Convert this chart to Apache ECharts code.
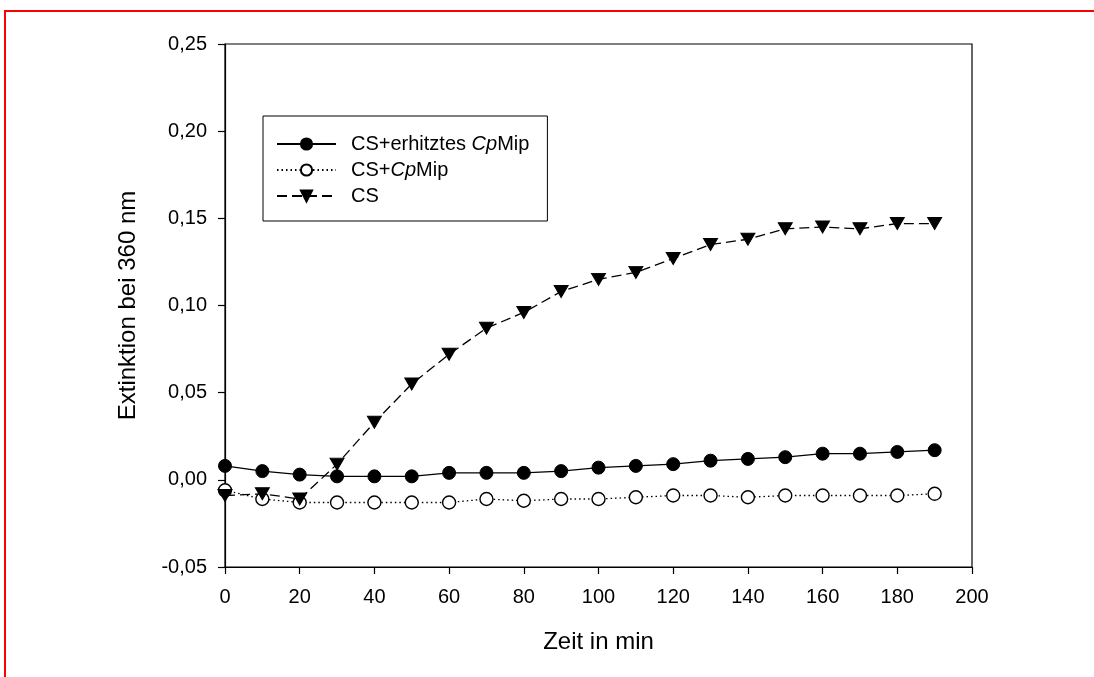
<!DOCTYPE html>
<html>
<head>
<meta charset="utf-8">
<script src="https://cdn.jsdelivr.net/npm/echarts@6/dist/echarts.min.js"></script>
<style>
html,body{margin:0;padding:0;background:#fff;}
#chart{width:1094px;height:677px;}
</style>
</head>
<body>
<div id="chart"></div>
<script>
const times = [0,10,20,30,40,50,60,70,80,90,100,110,120,130,140,150,160,170,180,190];
const heatedMip = [0.008,0.005,0.003,0.002,0.002,0.002,0.004,0.004,0.004,0.005,0.007,0.008,0.009,0.011,0.012,0.013,0.015,0.015,0.016,0.017];
const withMip = [-0.006,-0.011,-0.013,-0.013,-0.013,-0.013,-0.013,-0.011,-0.012,-0.011,-0.011,-0.010,-0.009,-0.009,-0.010,-0.009,-0.009,-0.009,-0.009,-0.008];
const csOnly = [-0.009,-0.008,-0.011,0.009,0.033,0.055,0.072,0.087,0.096,0.108,0.115,0.119,0.127,0.135,0.138,0.144,0.145,0.144,0.147,0.147];
const seriesNames = ['CS+erhitztes CpMip','CS+CpMip','CS'];
const legendLabels = ['{n|CS+erhitztes }{i|Cp}{n|Mip}','{n|CS+}{i|Cp}{n|Mip}','{n|CS}'];
const yTickLabels = ['-0,05','0,00','0,05','0,10','0,15','0,20','0,25'];
const xTitle = 'Zeit in min';
const yTitle = 'Extinktion bei 360 nm';

const pair = arr => times.map((t,i)=>[t,arr[i]]);
const FONT = 'Liberation Sans, Arial, sans-serif';

const chart = echarts.init(document.getElementById('chart'), null, {renderer:'canvas'});
chart.setOption({
  animation:false,
  backgroundColor:'#fff',
  graphic:[{
    type:'rect', silent:true,
    shape:{x:5,y:11,width:1200,height:1000},
    style:{fill:'none',stroke:'#ff0000',lineWidth:2}
  }],
  grid:{left:225,right:122,top:44,bottom:110,show:true,borderColor:'#000',borderWidth:1.2,backgroundColor:'transparent'},
  legend:{
    left:263, top:116, orient:'vertical',
    data:seriesNames,
    itemWidth:59, itemHeight:14, itemGap:0,
    padding:[15,18,12,13],
    borderColor:'#000', borderWidth:1, backgroundColor:'#fff',
    formatter: name => legendLabels[seriesNames.indexOf(name)],
    textStyle:{
      fontFamily:FONT, fontSize:20, color:'#000', lineHeight:26, padding:[0,0,0,10],
      rich:{
        n:{fontFamily:FONT,fontSize:20,color:'#000',lineHeight:26},
        i:{fontFamily:FONT,fontSize:20,color:'#000',fontStyle:'italic',lineHeight:26}
      }
    }
  },
  xAxis:{
    type:'value', min:0, max:200, interval:20,
    name:xTitle, nameLocation:'middle', nameGap:63,
    nameTextStyle:{fontFamily:FONT,fontSize:24,color:'#000'},
    axisLine:{show:true,onZero:false,lineStyle:{color:'#000',width:1.2}},
    axisTick:{show:true,length:7,inside:false,lineStyle:{color:'#000',width:1.2}},
    axisLabel:{fontFamily:FONT,fontSize:20,color:'#000',margin:20},
    splitLine:{show:false}
  },
  yAxis:{
    type:'value', min:-0.05, max:0.25, interval:0.05,
    name:yTitle, nameLocation:'middle', nameGap:85, nameRotate:90,
    nameTextStyle:{fontFamily:FONT,fontSize:24,color:'#000'},
    axisLine:{show:true,onZero:false,lineStyle:{color:'#000',width:1.2}},
    axisTick:{show:true,length:7,inside:false,lineStyle:{color:'#000',width:1.2}},
    axisLabel:{fontFamily:FONT,fontSize:20,color:'#000',margin:18,
      formatter:(v,i)=>yTickLabels[i]},
    splitLine:{show:false}
  },
  series:[
    {
      name:seriesNames[0], type:'line', data:pair(heatedMip),
      symbol:'circle', symbolSize:13,
      lineStyle:{color:'#000',width:1.3,type:'solid'},
      itemStyle:{color:'#000',borderColor:'#000',borderWidth:1}
    },
    {
      name:seriesNames[1], type:'line', data:pair(withMip),
      symbol:'circle', symbolSize:13,
      lineStyle:{color:'#000',width:1.3,type:[1.5,3]},
      itemStyle:{color:'#fff',borderColor:'#000',borderWidth:1.4}
    },
    {
      name:seriesNames[2], type:'line', data:pair(csOnly),
      symbol:'triangle', symbolRotate:180, symbolSize:[14,12],
      lineStyle:{color:'#000',width:1.3,type:[10,5]},
      itemStyle:{color:'#000',borderColor:'#000',borderWidth:1}
    }
  ]
});
</script>
</body>
</html>
